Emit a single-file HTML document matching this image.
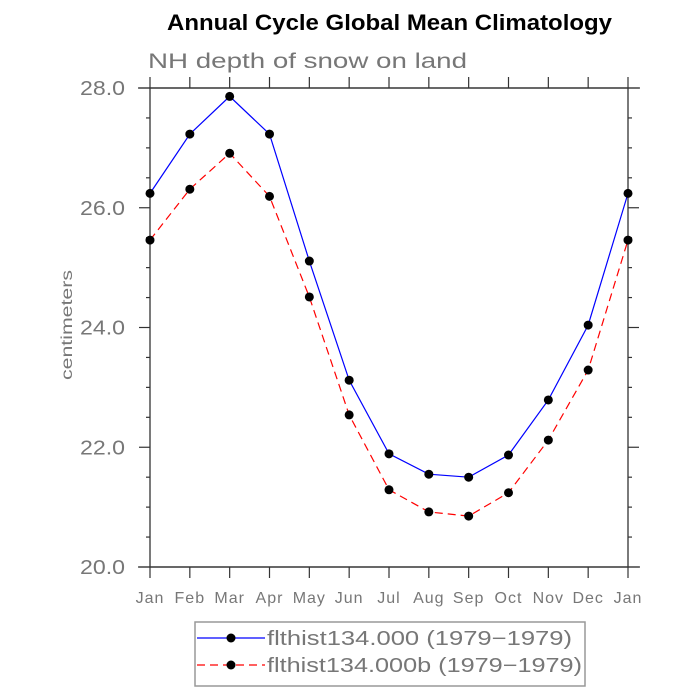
<!DOCTYPE html>
<html><head><meta charset="utf-8"><style>body{margin:0;background:#fff}svg{display:block}</style></head>
<body>
<svg id="chart" width="700" height="700" xmlns="http://www.w3.org/2000/svg" font-family="Liberation Sans, sans-serif">
<text x="167" y="30" textLength="445" lengthAdjust="spacingAndGlyphs" font-size="22" font-weight="bold" fill="#000">Annual Cycle Global Mean Climatology</text>
<text x="148" y="68" textLength="319" lengthAdjust="spacingAndGlyphs" font-size="21" fill="#777">NH depth of snow on land</text>
<text transform="translate(72,325) rotate(-90)" x="-55" y="0" textLength="110" lengthAdjust="spacingAndGlyphs" font-size="16" fill="#777">centimeters</text>
<g id="axes"></g><g id="series"></g>
<rect x="195" y="622" width="390" height="64" fill="none" stroke="#999" stroke-width="1.5"/>
<g>
<line x1="197" y1="638" x2="265" y2="638" stroke="#00f" stroke-width="1.2"/><circle cx="231" cy="638" r="4.5"/>
<text x="267" y="645" textLength="305" lengthAdjust="spacingAndGlyphs" font-size="20" fill="#777">flthist134.000 (1979−1979)</text></g>
<g>
<line x1="197" y1="665" x2="265" y2="665" stroke="#f00" stroke-width="1.2" stroke-dasharray="8,5"/><circle cx="231" cy="665" r="4.5"/>
<text x="267" y="672" textLength="315" lengthAdjust="spacingAndGlyphs" font-size="20" fill="#777">flthist134.000b (1979−1979)</text></g>
</svg>
<script>
const months=["Jan","Feb","Mar","Apr","May","Jun","Jul","Aug","Sep","Oct","Nov","Dec","Jan"];
const blueVals=[26.24,27.23,27.86,27.23,25.11,23.12,21.89,21.55,21.50,21.87,22.79,24.04,26.24];
const redVals=[25.46,26.31,26.91,26.19,24.51,22.54,21.29,20.92,20.85,21.24,22.12,23.29,25.46];
const yTicks=["20.0","22.0","24.0","26.0","28.0"];
const X0=150,X1=628,Y0=567,Y1=88,YMIN=20,YMAX=28;
const xs=i=>X0+i*(X1-X0)/(months.length-1);
const ys=v=>Y0-(v-YMIN)/(YMAX-YMIN)*(Y0-Y1);
const NS="http://www.w3.org/2000/svg";
function mk(t,a,p){const e=document.createElementNS(NS,t);for(const k in a)e.setAttribute(k,a[k]);p.appendChild(e);return e;}
const ax=document.getElementById('axes');
const fr=mk('rect',{x:X0,y:Y1,width:X1-X0,height:Y0-Y1,fill:'none',stroke:'#333','stroke-width':1.3},ax);


mk('line',{x1:138,y1:Y0,x2:640,y2:Y0,stroke:'#333','stroke-width':1.3},ax);
mk('line',{x1:138,y1:Y1,x2:640,y2:Y1,stroke:'#333','stroke-width':1.3},ax);
months.forEach((m,i)=>{const x=xs(i);
mk('line',{x1:x,y1:Y0,x2:x,y2:Y0+11,stroke:'#333','stroke-width':1.2},ax);
mk('line',{x1:x,y1:Y1,x2:x,y2:Y1-11,stroke:'#333','stroke-width':1.2},ax);
const t=mk('text',{x:x,y:603,'text-anchor':'middle','font-size':16,fill:'#777','letter-spacing':1},ax);t.textContent=m;

});
for(let v=YMIN;v<=YMAX+1e-9;v+=0.5){const y=ys(v);const major=Math.abs(v%2)<1e-9;const L=major?11:4;
mk('line',{x1:X0-L,y1:y,x2:X0,y2:y,stroke:'#333','stroke-width':1.2},ax);
mk('line',{x1:X1,y1:y,x2:X1+L,y2:y,stroke:'#333','stroke-width':1.2},ax);}
yTicks.forEach(s=>{const v=parseFloat(s);const t=mk('text',{x:80,y:ys(v)+7,textLength:45,lengthAdjust:'spacingAndGlyphs','font-size':20,fill:'#777'},ax);t.textContent=s;

});
const sg=document.getElementById('series');
function series(vals,color,dash,name){
const pts=vals.map((v,i)=>xs(i)+','+ys(v)).join(' ');
const pl=mk('polyline',{points:pts,fill:'none',stroke:color,'stroke-width':1.2},sg);
if(dash)pl.setAttribute('stroke-dasharray',dash);


vals.forEach((v,i)=>{const c=mk('circle',{cx:xs(i),cy:ys(v),r:4.5,fill:'#000'},sg);

});}
series(redVals,'#f00','8,5','red-series');
series(blueVals,'#00f',null,'blue-series');
</script>
</body></html>
